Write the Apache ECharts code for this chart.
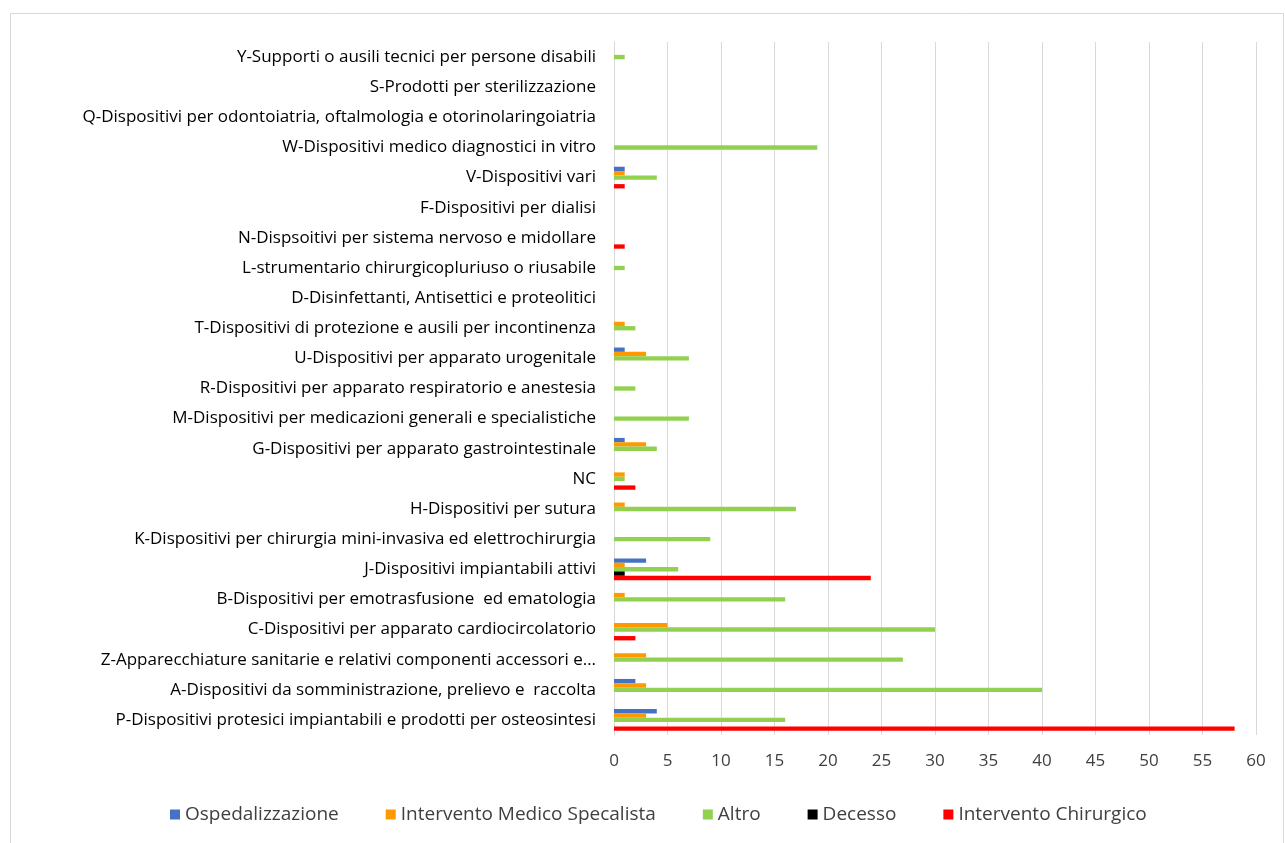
<!DOCTYPE html>
<html>
<head>
<meta charset="utf-8">
<title>Dispositivi medici</title>
<script src="https://cdn.jsdelivr.net/npm/echarts@6/dist/echarts.min.js"></script>
<style>
  html, body { margin: 0; padding: 0; background: #fff; }
  #chart { width: 1285px; height: 843px; }
</style>
</head>
<body>
<div id="chart"></div>
<script>
// categorie dal basso verso l'alto
var categories = [
  'P-Dispositivi protesici impiantabili e prodotti per osteosintesi',
  'A-Dispositivi da somministrazione, prelievo e  raccolta',
  'Z-Apparecchiature sanitarie e relativi componenti accessori e…',
  'C-Dispositivi per apparato cardiocircolatorio',
  'B-Dispositivi per emotrasfusione  ed ematologia',
  'J-Dispositivi impiantabili attivi',
  'K-Dispositivi per chirurgia mini-invasiva ed elettrochirurgia',
  'H-Dispositivi per sutura',
  'NC',
  'G-Dispositivi per apparato gastrointestinale',
  'M-Dispositivi per medicazioni generali e specialistiche',
  'R-Dispositivi per apparato respiratorio e anestesia',
  'U-Dispositivi per apparato urogenitale',
  'T-Dispositivi di protezione e ausili per incontinenza',
  'D-Disinfettanti, Antisettici e proteolitici',
  'L-strumentario chirurgicopluriuso o riusabile',
  'N-Dispsoitivi per sistema nervoso e midollare',
  'F-Dispositivi per dialisi',
  'V-Dispositivi vari',
  'W-Dispositivi medico diagnostici in vitro',
  'Q-Dispositivi per odontoiatria, oftalmologia e otorinolaringoiatria',
  'S-Prodotti per sterilizzazione',
  'Y-Supporti o ausili tecnici per persone disabili'
];

var ospedalizzazione = [4, 2, null, null, null, 3, null, null, null, 1, null, null, 1, null, null, null, null, null, 1, null, null, null, null];
var interventoMedico = [3, 3, 3, 5, 1, 1, null, 1, 1, 3, null, null, 3, 1, null, null, null, null, 1, null, null, null, null];
var altro = [16, 40, 27, 30, 16, 6, 9, 17, 1, 4, 7, 2, 7, 2, null, 1, null, null, 4, 19, null, null, 1];
var decesso = [null, null, null, null, null, 1, null, null, null, null, null, null, null, null, null, null, null, null, null, null, null, null, null];
var interventoChirurgico = [58, null, null, 2, null, 24, null, null, 2, null, null, null, null, null, null, null, 1, null, 1, null, null, null, null];

var xTicks = [0, 60, 5];

var chart = echarts.init(document.getElementById('chart'));

function serie(name, data, color) {
  return {
    name: name,
    type: 'bar',
    data: data,
    barGap: '0%',
    barCategoryGap: '28%',
    itemStyle: { color: color },
    emphasis: { disabled: true }
  };
}

chart.setOption({
  animation: false,
  textStyle: { fontFamily: 'Open Sans' },
  graphic: [{
    type: 'rect',
    shape: { x: 10.5, y: 13.5, width: 1273, height: 840 },
    style: { fill: 'none', stroke: '#d9d9d9', lineWidth: 1 },
    silent: true
  }],
  legend: {
    bottom: 14,
    left: 165,
    itemWidth: 10,
    itemHeight: 10,
    itemGap: 47,
    icon: 'rect',
    textStyle: { fontSize: 19, color: '#404040', fontFamily: 'Open Sans' },
    data: ['Ospedalizzazione', 'Intervento Medico Specalista', 'Altro', 'Decesso', 'Intervento Chirurgico']
  },
  grid: {
    left: 614,
    right: 29,
    top: 42,
    bottom: 108,
    containLabel: false
  },
  xAxis: {
    type: 'value',
    min: xTicks[0],
    max: xTicks[1],
    interval: xTicks[2],
    axisLine: { show: false },
    axisTick: { show: false },
    axisLabel: { fontSize: 17, color: '#404040', margin: 18 },
    splitLine: { lineStyle: { color: '#d9d9d9', width: 1 } }
  },
  yAxis: {
    type: 'category',
    data: categories,
    axisLine: { show: true, lineStyle: { color: '#d9d9d9' } },
    axisTick: { show: false },
    axisLabel: { fontSize: 17, color: '#000', margin: 18, fontFamily: 'Open Sans' },
    splitLine: { show: false }
  },
  series: [
    serie('Ospedalizzazione', ospedalizzazione, '#4472C4'),
    serie('Intervento Medico Specalista', interventoMedico, '#FF9900'),
    serie('Altro', altro, '#92D050'),
    serie('Decesso', decesso, '#000000'),
    serie('Intervento Chirurgico', interventoChirurgico, '#FF0000')
  ]
});
</script>
</body>
</html>
